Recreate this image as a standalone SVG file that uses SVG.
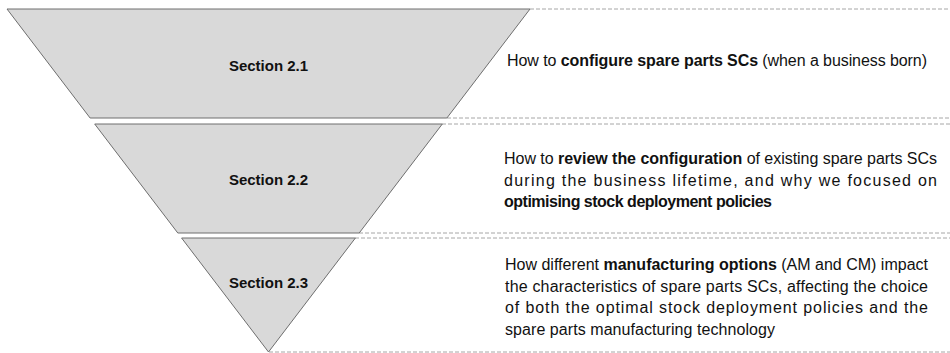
<svg xmlns="http://www.w3.org/2000/svg" width="950" height="353" viewBox="0 0 950 353">
<style>
.seg{fill:#d9d9d9;stroke:#6e6e6e;stroke-width:1}
.dash{stroke:#a6a6a6;stroke-width:1;stroke-dasharray:4 2;fill:none}
.lbl{font-family:"Liberation Sans",Arial,sans-serif;font-size:15px;font-weight:bold;fill:#111;text-anchor:middle}
.desc{font-family:"Liberation Sans",Arial,sans-serif;font-size:16px;fill:#111}
.b{font-weight:bold}
</style>
<rect width="950" height="353" fill="#fff"/>
<g id="connectors">
<line class="dash" x1="530" y1="9" x2="950" y2="9"/>
<line class="dash" x1="447" y1="118" x2="950" y2="118"/>
<line class="dash" x1="442" y1="124" x2="950" y2="124"/>
<line class="dash" x1="359" y1="233" x2="950" y2="233"/>
<line class="dash" x1="355" y1="238" x2="950" y2="238"/>
<line class="dash" x1="269" y1="352" x2="950" y2="352"/>
</g>
<g id="section21">
<polygon class="seg" points="7,9 530,9 446.9,118 90.1,118"/>
<text class="lbl" x="268.5" y="71">Section 2.1</text>
</g>
<g id="section22">
<polygon class="seg" points="94.7,124 442.3,124 359.2,233 177.8,233"/>
<text class="lbl" x="268.5" y="185">Section 2.2</text>
</g>
<g id="section23">
<polygon class="seg" points="181.6,238 355.4,238 268.5,352"/>
<text class="lbl" x="268.5" y="288">Section 2.3</text>
</g>
<g id="desc21">
<text class="desc" x="507" y="66" textLength="420" lengthAdjust="spacing">How to <tspan class="b">configure spare parts SCs</tspan> (when a business born)</text>
</g>
<g id="desc22">
<text class="desc" x="504" y="164" textLength="433" lengthAdjust="spacing">How to <tspan class="b">review the configuration</tspan> of existing spare parts SCs</text>
<text class="desc" x="504" y="185.5" textLength="433" lengthAdjust="spacing">during the business lifetime, and why we focused on</text>
<text class="desc b" x="504" y="207" textLength="268" lengthAdjust="spacing">optimising stock deployment policies</text>
</g>
<g id="desc23">
<text class="desc" x="505" y="270" textLength="423" lengthAdjust="spacing">How different <tspan class="b">manufacturing options</tspan> (AM and CM) impact</text>
<text class="desc" x="505" y="291.5" textLength="423" lengthAdjust="spacing">the characteristics of spare parts SCs, affecting the choice</text>
<text class="desc" x="505" y="313" textLength="423" lengthAdjust="spacing">of both the optimal stock deployment policies and the</text>
<text class="desc" x="505" y="334.5" textLength="270" lengthAdjust="spacing">spare parts manufacturing technology</text>
</g>
</svg>
